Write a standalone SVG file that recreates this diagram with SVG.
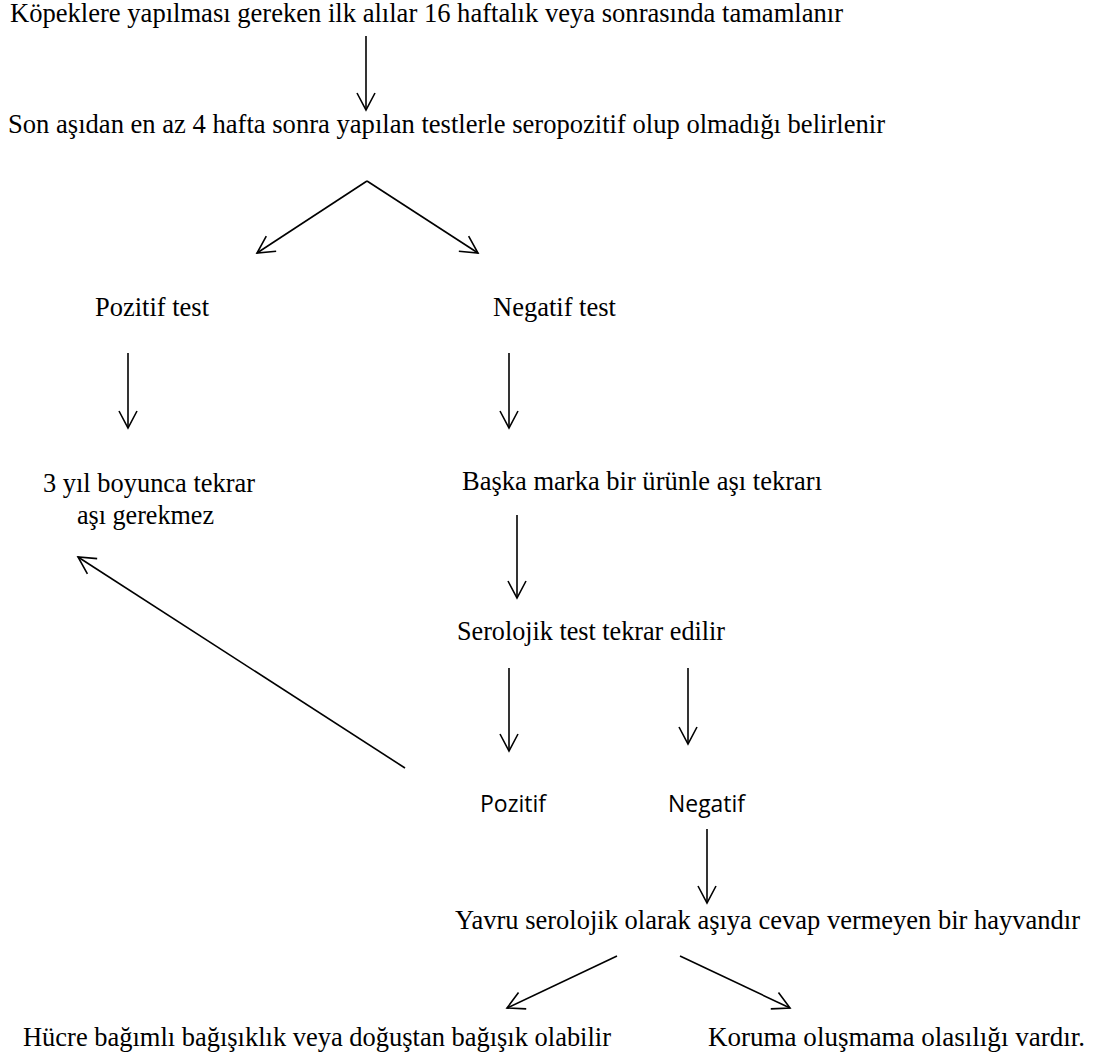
<svg xmlns="http://www.w3.org/2000/svg" width="1108" height="1059" viewBox="0 0 1108 1059">
<style>
.t{font-family:'Liberation Serif','Times New Roman',serif;font-size:26.5px;fill:#000}
.s{font-family:'Open Sans','Liberation Sans',sans-serif;font-size:23px;fill:#000}
.c line{stroke:#000;stroke-width:1.6;fill:none;marker-end:url(#ah)}
</style>
<defs>
<marker id="ah" markerUnits="userSpaceOnUse" markerWidth="24" markerHeight="24" viewBox="-20 -12 24 24" refX="0" refY="0" orient="auto">
<path d="M-17,-9 L0,0 L-17,9" fill="none" stroke="#000" stroke-width="1.6"/>
</marker>
</defs>
<rect width="1108" height="1059" fill="#fff"/>
<g id="n1"><text class="t" x="10" y="22" textLength="833" lengthAdjust="spacingAndGlyphs">Köpeklere yapılması gereken ilk alılar 16 haftalık veya sonrasında tamamlanır</text></g>
<g id="n2"><text class="t" x="8" y="133" textLength="877" lengthAdjust="spacingAndGlyphs">Son aşıdan en az 4 hafta sonra yapılan testlerle seropozitif olup olmadığı belirlenir</text></g>
<g id="n3"><text class="t" x="95" y="316" textLength="114" lengthAdjust="spacingAndGlyphs">Pozitif test</text></g>
<g id="n4"><text class="t" x="493" y="316">Negatif test</text></g>
<g id="n5"><text class="t" x="43" y="492" textLength="212" lengthAdjust="spacingAndGlyphs">3 yıl boyunca tekrar</text><text class="t" x="77" y="524" textLength="137" lengthAdjust="spacingAndGlyphs">aşı gerekmez</text></g>
<g id="n6"><text class="t" x="462" y="490" textLength="360" lengthAdjust="spacingAndGlyphs">Başka marka bir ürünle aşı tekrarı</text></g>
<g id="n7"><text class="t" x="457" y="640" textLength="268" lengthAdjust="spacingAndGlyphs">Serolojik test tekrar edilir</text></g>
<g id="n8"><text class="s" x="480" y="812" textLength="66" lengthAdjust="spacingAndGlyphs">Pozitif</text></g>
<g id="n9"><text class="s" x="668" y="812" textLength="77" lengthAdjust="spacingAndGlyphs">Negatif</text></g>
<g id="n10"><text class="t" x="455" y="929">Yavru serolojik olarak aşıya cevap vermeyen bir hayvandır</text></g>
<g id="n11"><text class="t" x="23" y="1046" textLength="588" lengthAdjust="spacingAndGlyphs">Hücre bağımlı bağışıklık veya doğuştan bağışık olabilir</text></g>
<g id="n12"><text class="t" x="708" y="1046" textLength="377" lengthAdjust="spacingAndGlyphs">Koruma oluşmama olasılığı vardır.</text></g>
<g id="connectors" class="c">
<line x1="366" y1="36" x2="366" y2="110"/>
<line x1="367" y1="181" x2="257" y2="253"/>
<line x1="367" y1="181" x2="478" y2="253"/>
<line x1="128" y1="353" x2="128" y2="428"/>
<line x1="509" y1="353" x2="509" y2="428"/>
<line x1="517" y1="515" x2="517" y2="598"/>
<line x1="509" y1="668" x2="509" y2="751"/>
<line x1="688" y1="668" x2="688" y2="744"/>
<line x1="405" y1="768" x2="78" y2="557"/>
<line x1="707" y1="829" x2="707" y2="903"/>
<line x1="617" y1="956" x2="507" y2="1008"/>
<line x1="680" y1="956" x2="790" y2="1008"/>
</g>
</svg>
